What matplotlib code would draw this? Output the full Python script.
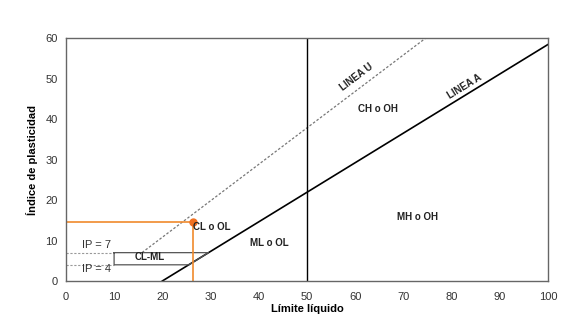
import numpy as np
import matplotlib
matplotlib.use("Agg")
from matplotlib import pyplot as plt

plt.rcParams["font.family"] = ["Liberation Sans", "DejaVu Sans"]

# Casagrande plasticity chart
ll_a = [20, 100]          # LINEA A: IP = 0.73 (LL - 20)
ip_a = [0.73 * (v - 20) for v in ll_a]
ll_u = [15.8, 74.7]       # LINEA U: IP = 0.9 (LL - 8)
ip_u = [0.9 * (v - 8) for v in ll_u]
ll_sample = 26.3
ip_sample = 14.6
box_ll = [10, 29.6, 25.5, 10, 10]
box_ip = [7, 7, 4, 4, 7]

zones = ["LINEA U", "LINEA A", "CH o OH", "MH o OH", "ML o OL", "CL o OL", "CL-ML"]
zone_x = [60.3, 82.8, 64.7, 73.0, 42.3, 30.3, 17.4]
zone_y = [50.4, 47.9, 42.5, 15.8, 9.4, 13.3, 5.9]
zone_rot = [37, 31.5, 0, 0, 0, 0, 0]

fig = plt.figure(figsize=(5.78, 3.21), dpi=100)
ax = fig.add_axes([0.114, 0.1246, 0.834, 0.757])

ax.plot(ll_a, ip_a, color="black", lw=1.2)
ax.plot(ll_u, ip_u, color="#777777", lw=0.9, ls=(0, (2, 1.5)))
ax.plot([50, 50], [0, 60], color="black", lw=1.0)
ax.plot([0, 10], [7, 7], color="#999999", lw=0.8, ls=(0, (2, 1.5)))
ax.plot([0, 10], [4, 4], color="#999999", lw=0.8, ls=(0, (2, 1.5)))
ax.plot(box_ll, box_ip, color="#555555", lw=0.9)
ax.plot([0, ll_sample], [ip_sample, ip_sample], color="#f08a2c", lw=1.2)
ax.plot([ll_sample, ll_sample], [0, ip_sample], color="#f08a2c", lw=1.2)
ax.plot([ll_sample], [ip_sample], "o", color="#f07020", ms=5)

for name, x, y, r in zip(zones, zone_x, zone_y, zone_rot):
    ax.text(x, y, name, ha="center", va="center", rotation=r,
            fontsize=7, fontweight="bold", color="#222222")
ax.text(6.4, 8.9, "IP = 7", ha="center", va="center", fontsize=8, color="#333333")
ax.text(6.4, 3.0, "IP = 4", ha="center", va="center", fontsize=8, color="#333333")

ax.set_xlim(0, 100)
ax.set_ylim(0, 60)
ax.set_xticks(np.arange(0, 101, 10))
ax.set_yticks(np.arange(0, 61, 10))
ax.tick_params(axis="x", length=0, labelsize=8, colors="#333333", pad=8)
ax.tick_params(axis="y", length=0, labelsize=8, colors="#333333", pad=6)
for s in ax.spines.values():
    s.set_color("#666666")
    s.set_linewidth(1.0)
ax.set_xlabel("Límite líquido", fontsize=8, fontweight="bold", labelpad=1)
ax.set_ylabel("Índice de plasticidad", fontsize=8, fontweight="bold", labelpad=5)

fig.savefig("out.png", dpi=100)
